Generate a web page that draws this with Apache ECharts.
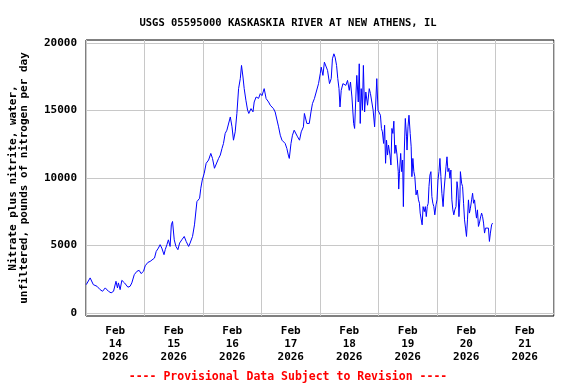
<!DOCTYPE html>
<html lang="en">
<head>
    <meta charset="UTF-8">
    <title>USGS 05595000 KASKASKIA RIVER AT NEW ATHENS, IL</title>
    <script src="https://cdn.jsdelivr.net/npm/echarts@6/dist/echarts.min.js"></script>
    <style>
        body { margin: 0; background-color: #ffffff; }
    </style>
</head>
<body>
    <div id="chart" style="width: 576px; height: 384px;"></div>

    <script>
        // hours since Feb 14 2026 00:00
        const hours = [
            0.1, 1.7, 3.0, 4.5, 5.8, 6.8, 7.9, 9.2, 10.3, 11.3, 12.3, 12.9, 13.3, 14.0, 14.7, 15.8, 17.2, 18.1, 18.8, 19.8,
            20.9, 21.8, 22.6, 23.6, 24.3, 25.4, 26.3, 27.0, 28.1, 28.8, 29.7, 30.4, 31.1, 32.0, 32.5, 33.2, 33.8, 34.5, 35.0, 35.5,
            36.2, 36.9, 37.7, 38.4, 39.3, 40.3, 41.1, 42.1, 42.7, 43.7, 44.5, 45.5, 46.6, 47.1, 47.7, 48.5, 49.3, 50.3, 51.2, 51.9,
            52.7, 53.4, 54.4, 55.1, 55.8, 56.4, 57.1, 57.8, 58.5, 59.2, 59.9, 60.5, 61.2, 61.9, 62.6, 63.3, 63.8, 64.4, 64.9, 65.6,
            66.3, 66.8, 67.7, 68.5, 69.0, 69.8, 70.8, 71.5, 72.2, 73.1, 73.9, 74.9, 75.6, 76.3, 76.9, 77.6, 78.3, 79.0, 79.7, 80.4,
            81.0, 81.7, 82.4, 83.0, 83.4, 84.1, 84.7, 85.4, 86.1, 86.8, 87.6, 88.3, 89.2, 89.6, 90.6, 91.6, 92.3, 92.9, 93.7, 94.4,
            95.4, 96.1, 96.5, 97.2, 97.8, 98.5, 99.1, 99.9, 100.6, 101.1, 101.7, 102.2, 102.8, 103.3, 103.8, 104.2, 104.7, 105.4, 106.1, 106.6,
            107.3, 108.0, 108.5, 109.1, 109.8, 110.2, 110.7, 111.1, 111.7, 112.1, 112.5, 112.9, 113.4, 113.8, 114.3, 114.8, 115.5, 116.2, 116.7, 117.3,
            117.8, 118.4, 118.8, 119.3, 119.8, 120.3, 120.8, 121.2, 121.6, 122.1, 122.5, 122.9, 123.3, 123.7, 124.1, 124.7, 125.1, 125.5, 125.9, 126.3,
            126.7, 127.1, 127.6, 128.1, 128.3, 128.6, 129.1, 129.5, 129.9, 130.2, 130.6, 131.0, 131.5, 131.7, 132.1, 132.5, 133.0, 133.4, 133.7, 134.1,
            134.5, 134.9, 135.4, 135.9, 136.4, 136.8, 137.1, 137.5, 137.9, 138.3, 138.8, 139.2, 139.6, 140.0, 140.4, 140.7, 141.1, 141.5, 141.9, 142.3,
            142.7, 143.1, 143.6, 144.0, 144.4, 144.8, 145.2, 145.6, 146.0, 146.5, 146.9, 147.3, 147.7, 148.1, 148.5, 148.9, 149.3, 149.7, 150.1, 150.5,
            150.9, 151.3, 151.8, 152.2, 152.6, 153.0, 153.4, 153.6, 154.1, 154.5, 154.9, 155.3, 155.7, 156.1, 156.5, 156.9, 157.3, 157.7, 158.2, 158.6,
            159.0, 159.4, 159.8, 160.2, 160.6, 161.0, 161.4, 161.8, 162.3, 162.7, 163.1, 163.5, 163.9, 164.3, 164.7, 165.1, 165.5, 165.9, 166.4, 166.8
        ];
        // pounds of nitrogen per day
        const nitrateLoad = [
            2100, 2600, 2100, 1980, 1730, 1610, 1860, 1610, 1490, 1610, 2350, 1860, 2230, 1730, 2420, 2230, 1910, 1980, 2230, 2840,
            3090, 3160, 2920, 3090, 3500, 3750, 3820, 3950, 4070, 4560, 4810, 5060, 4810, 4320, 4690, 5060, 5420, 4930, 6530, 6780,
            5420, 4930, 4690, 5180, 5420, 5670, 5300, 4930, 5180, 5670, 6530, 8250, 8500, 9240, 9850, 10350, 11090, 11330, 11820, 11450,
            10720, 10720, 11450, 11700, 12190, 12560, 13300, 13540, 13670, 14520, 13790, 12800, 13420, 14780, 16620, 17360, 18340, 17480, 16620, 15760,
            15020, 14780, 15140, 14900, 15630, 16000, 15900, 16250, 16100, 16620, 15880, 15630, 15390, 15260, 15140, 14890, 14780, 13790, 13170, 12800,
            12930, 12560, 12190, 11700, 11450, 12560, 13170, 13540, 13540, 13050, 12800, 13420, 13790, 14780, 14040, 14040, 14890, 15510, 15880, 15760,
            16990, 17730, 18210, 17600, 18580, 18580, 17970, 16990, 17360, 18830, 19200, 18950, 18340, 17360, 16620, 15260, 16490, 16990, 17110, 16860,
            17230, 16490, 17110, 16000, 14040, 13670, 16000, 17600, 15630, 18460, 14040, 16620, 15020, 18340, 14890, 16370, 15390, 16620, 16250, 16130,
            15020, 13790, 15260, 17360, 15020, 15140, 14650, 13670, 13420, 12560, 13910, 11090, 12800, 11700, 12440, 11700, 10960, 13670, 13300, 14210,
            11820, 12440, 11700, 10470, 9180, 10350, 11820, 10470, 11330, 7880, 12070, 14410, 13050, 12070, 13790, 14650, 13300, 12310, 10100, 11450,
            10470, 10100, 8750, 9110, 8380, 8130, 7400, 7270, 6530, 7880, 7510, 7880, 7140, 7880, 8130, 9360, 10220, 10470, 8620, 8130,
            7880, 7270, 8010, 8380, 9850, 10470, 11450, 10100, 8870, 7880, 9110, 9240, 10830, 11570, 10470, 10720, 9980, 10590, 8380, 7640,
            7270, 7640, 7880, 9730, 9110, 7140, 8500, 10470, 9610, 9360, 8130, 6900, 6290, 5670, 6900, 8380, 7400, 7760, 8380, 8870,
            8130, 8380, 7640, 7030, 7640, 6410, 6660, 7030, 7400, 7140, 6660, 5920, 6290, 6410, 6170, 6290, 5300, 5920, 6530, 6660
        ];
        const monthLabel = 'Feb';
        const yearLabel = '2026';
        const firstDay = 14;

        const mono = 'DejaVu Sans Mono';
        const chart = echarts.init(document.getElementById('chart'));

        const option = {
            animation: false,
            title: [{
                text: 'USGS 05595000 KASKASKIA RIVER AT NEW ATHENS, IL',
                left: 'center',
                top: 13,
                textStyle: { fontFamily: mono, fontWeight: 'bold', fontSize: 10.5, color: '#000' }
            }, {
                text: '---- Provisional Data Subject to Revision ----',
                left: 'center',
                top: 366,
                textStyle: { fontFamily: mono, fontWeight: 'bold', fontSize: 11.5, color: '#ff0000' }
            }],
            grid: [{
                // frame + data
                left: 86, right: 22, top: 40, bottom: 68,
                show: true, borderColor: '#000', borderWidth: 1
            }, {
                // horizontal gridlines 0..20000
                left: 86, right: 22, top: 43, bottom: 71
            }],
            xAxis: [{
                gridIndex: 0, type: 'value', min: 0, max: 192, interval: 24,
                axisLine: { show: false }, axisTick: { show: false }, axisLabel: { show: false },
                splitLine: { lineStyle: { color: '#c8c8c8', width: 1 } }
            }, {
                gridIndex: 0, type: 'value', position: 'bottom', min: -12, max: 180, interval: 12,
                axisLine: { show: false }, axisTick: { show: false },
                splitLine: { show: false },
                axisLabel: {
                    margin: 9,
                    fontFamily: mono, fontWeight: 'bold', fontSize: 11, color: '#000', lineHeight: 13,
                    formatter: v => (v >= 0 && v % 24 === 0) ? monthLabel + '\n' + (firstDay + v / 24) + '\n' + yearLabel : ''
                }
            }, {
                gridIndex: 1, type: 'value', min: 0, max: 192, show: false
            }],
            yAxis: [{
                gridIndex: 0, type: 'value', min: -222, max: 20222, show: false
            }, {
                gridIndex: 1, type: 'value', min: 0, max: 20000, interval: 5000,
                axisLine: { show: false }, axisTick: { show: false },
                axisLabel: {
                    margin: 9, fontFamily: mono, fontWeight: 'bold', fontSize: 11, color: '#000',
                    formatter: v => String(v)
                },
                splitLine: { lineStyle: { color: '#c8c8c8', width: 1 } },
                name: 'Nitrate plus nitrite, water,\nunfiltered, pounds of nitrogen per day',
                nameLocation: 'middle',
                nameRotate: 90,
                nameGap: 56,
                nameTextStyle: { fontFamily: mono, fontWeight: 'bold', fontSize: 11, color: '#000', lineHeight: 11 }
            }],
            series: [{
                type: 'line',
                xAxisIndex: 0,
                yAxisIndex: 0,
                data: hours.map((h, i) => [h, nitrateLoad[i]]),
                showSymbol: false,
                lineStyle: { color: '#0000ff', width: 1 }
            }]
        };

        chart.setOption(option);
    </script>
</body>
</html>
